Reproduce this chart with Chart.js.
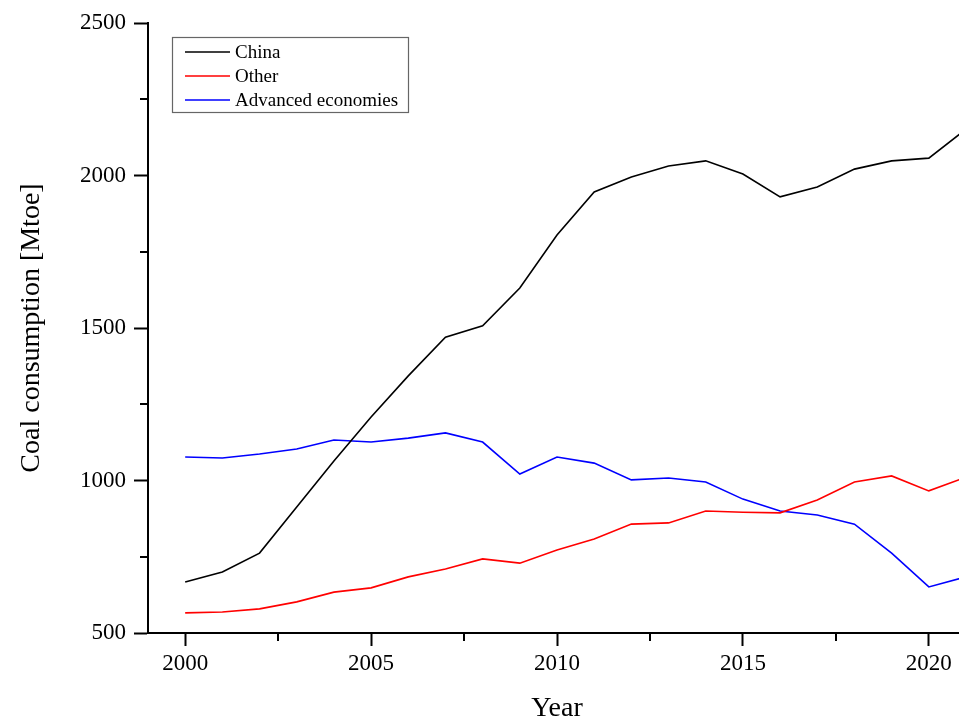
<!DOCTYPE html>
<html>
<head>
<meta charset="utf-8">
<script src="https://cdn.jsdelivr.net/npm/chart.js@4"></script>
<style>
  html, body { margin: 0; padding: 0; background: #fff; overflow: hidden; }
  #wrap { position: absolute; left: 0; top: 0; width: 980px; height: 721px; }
</style>
</head>
<body>
<div id="wrap"><canvas id="coalChart"></canvas></div>
<script>
const years = [2000, 2001, 2002, 2003, 2004, 2005, 2006, 2007, 2008, 2009, 2010,
               2011, 2012, 2013, 2014, 2015, 2016, 2017, 2018, 2019, 2020, 2021];
const china    = [667, 700, 762, 913, 1064, 1208, 1343, 1470, 1507, 1631, 1805,
                  1946, 1995, 2031, 2048, 2005, 1930, 1962, 2021, 2048, 2057, 2152];
const other    = [566, 569, 579, 602, 634, 648, 684, 710, 743, 729, 772,
                  808, 857, 861, 900, 896, 894, 936, 995, 1015, 966, 1011];
const advanced = [1077, 1074, 1087, 1103, 1133, 1126, 1139, 1156, 1126, 1021, 1077,
                  1057, 1002, 1008, 995, 939, 900, 887, 857, 762, 651, 684];

const xTicks = [2000, 2002.5, 2005, 2007.5, 2010, 2012.5, 2015, 2017.5, 2020];
const yTicks = [500, 750, 1000, 1250, 1500, 1750, 2000, 2250, 2500];

const serif = 'Liberation Serif, Times New Roman, serif';

function toPoints(vals) {
  return years.map((y, i) => ({ x: y, y: vals[i] }));
}

// minor ticks (shorter) + boxed legend
const extras = {
  id: 'extras',
  afterDraw(chart) {
    const ctx = chart.ctx;
    const xs = chart.scales.x, ys = chart.scales.y;
    const area = chart.chartArea;
    ctx.save();
    ctx.strokeStyle = '#000';
    ctx.lineWidth = 2;
    xTicks.filter(v => v % 5 !== 0).forEach(v => {
      const px = Math.round(xs.getPixelForValue(v));
      ctx.beginPath();
      ctx.moveTo(px, area.bottom);
      ctx.lineTo(px, area.bottom + 8);
      ctx.stroke();
    });
    yTicks.filter(v => v % 500 !== 0).forEach(v => {
      const py = Math.round(ys.getPixelForValue(v));
      ctx.beginPath();
      ctx.moveTo(area.left - 8, py);
      ctx.lineTo(area.left, py);
      ctx.stroke();
    });

    // legend
    ctx.fillStyle = '#fff';
    ctx.fillRect(172.5, 37.5, 236, 75);
    ctx.strokeStyle = '#666';
    ctx.lineWidth = 1.2;
    ctx.strokeRect(172.5, 37.5, 236, 75);
    ctx.font = '19px ' + serif;
    ctx.textBaseline = 'middle';
    chart.data.datasets.forEach((ds, i) => {
      const yy = 52 + i * 24;
      ctx.strokeStyle = ds.borderColor;
      ctx.lineWidth = 1.6;
      ctx.beginPath();
      ctx.moveTo(185, yy);
      ctx.lineTo(230, yy);
      ctx.stroke();
      ctx.fillStyle = '#000';
      ctx.fillText(ds.label, 235, yy + 1);
    });
    ctx.restore();
  }
};

new Chart(document.getElementById('coalChart'), {
  type: 'line',
  data: {
    datasets: [
      { label: 'China', data: toPoints(china), borderColor: '#000000' },
      { label: 'Other', data: toPoints(other), borderColor: '#ff0000' },
      { label: 'Advanced economies', data: toPoints(advanced), borderColor: '#0000ff' }
    ]
  },
  options: {
    responsive: true,
    maintainAspectRatio: false,
    animation: false,
    layout: { padding: { top: 23, right: 14, left: 0, bottom: 0 } },
    elements: {
      line: { borderWidth: 1.6, tension: 0 },
      point: { radius: 0 }
    },
    plugins: {
      legend: { display: false },
      tooltip: { enabled: false }
    },
    scales: {
      x: {
        type: 'linear',
        min: 1999,
        max: 2021,
        afterBuildTicks: axis => { axis.ticks = xTicks.map(v => ({ value: v })); },
        afterFit: axis => { axis.height = 88; },
        border: { display: true, color: '#000', width: 2 },
        grid: {
          drawOnChartArea: false,
          tickLength: 13,
          tickWidth: 2,
          tickColor: ctx => (ctx.tick && ctx.tick.value % 5 === 0) ? '#000' : 'rgba(0,0,0,0)'
        },
        ticks: {
          color: '#000',
          padding: 4,
          maxRotation: 0,
          autoSkip: false,
          font: { family: serif, size: 23 },
          callback: v => (v % 5 === 0 ? String(v) : '')
        },
        title: {
          display: true,
          text: 'Year',
          color: '#000',
          font: { family: serif, size: 28, lineHeight: 0.9 },
          padding: { top: 0, bottom: 0 }
        }
      },
      y: {
        min: 500,
        max: 2500,
        afterBuildTicks: axis => { axis.ticks = yTicks.map(v => ({ value: v })); },
        afterFit: axis => { axis.width = 148; },
        border: { display: true, color: '#000', width: 2 },
        grid: {
          drawOnChartArea: false,
          tickLength: 14,
          tickWidth: 2,
          tickColor: ctx => (ctx.tick && ctx.tick.value % 500 === 0) ? '#000' : 'rgba(0,0,0,0)'
        },
        ticks: {
          color: '#000',
          padding: 8,
          autoSkip: false,
          font: { family: serif, size: 23 },
          callback: v => (v % 500 === 0 ? String(v) : '')
        },
        title: {
          display: true,
          text: 'Coal consumption [Mtoe]',
          color: '#000',
          font: { family: serif, size: 28, lineHeight: 1 },
          padding: { top: 18, bottom: 0 }
        }
      }
    }
  },
  plugins: [extras]
});
</script>
</body>
</html>
